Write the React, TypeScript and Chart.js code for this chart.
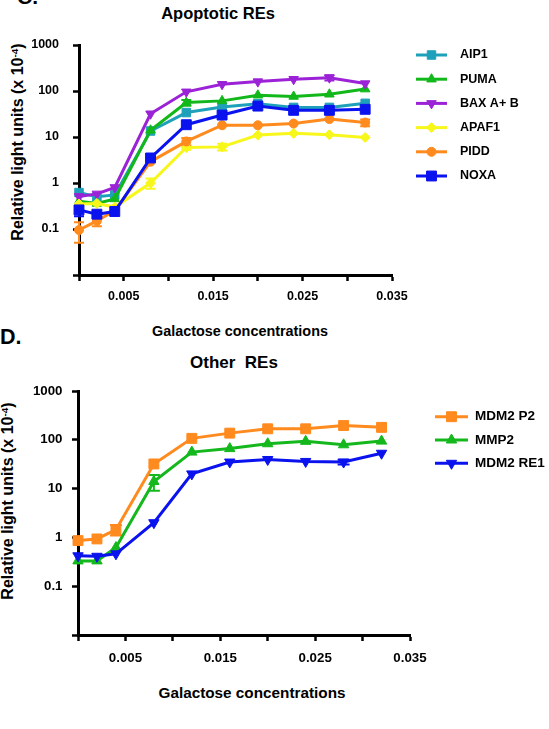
import React, { useEffect, useRef } from 'react';
import { Chart, registerables } from 'chart.js';
import { drawPoint } from 'chart.js/helpers';

Chart.register(...registerables);

const FONT = '"Liberation Sans", Arial, Helvetica, sans-serif';

// Galactose concentrations at which luciferase activity was measured
const galactose = [0, 0.002, 0.004, 0.008, 0.012, 0.016, 0.02, 0.024, 0.028, 0.032];

const xTickValues = [0, 0.005, 0.01, 0.015, 0.02, 0.025, 0.03, 0.035];
const xTickLabels = ['', '0.005', '', '0.015', '', '0.025', '', '0.035'];
const yTickValues = [0.01, 0.1, 1, 10, 100, 1000];
const yTickLabels = ['', '0.1', '1', '10', '100', '1000'];

// Apoptotic REs (relative light units x 10^-4)
const aip1 = [0.62, 0.5, 0.55, 13.5, 34, 45, 53, 44, 44, 54];
const puma = [0.4, 0.36, 0.45, 14, 56, 61, 81, 76, 85, 110];
const bax = [0.51, 0.58, 0.8, 32, 96, 140, 160, 180, 195, 145];
const apaf1 = [0.35, 0.36, 0.3, 1.0, 5.9, 6.1, 11, 12, 11.2, 9.8];
const pidd = [0.095, 0.15, 0.25, 2.9, 8, 18, 18, 19.6, 24.5, 20.6];
const noxa = [0.26, 0.21, 0.24, 3.5, 18.5, 30, 47, 38, 38, 40];

// error bar half-widths (0 = none drawn)
const aip1Err = [0, 0, 0, 0, 0, 0, 0, 0, 0, 0];
const pumaErr = [0, 0, 0, 0, 8, 0, 0, 0, 0, 0];
const baxErr = [0, 0, 0, 0, 0, 0, 0, 0, 25, 0];
const apaf1Err = [0, 0, 0, 0.25, 0.6, 1.0, 0, 0, 0, 0];
const piddErr = [0.045, 0.035, 0, 0, 1.5, 0, 0, 0, 0, 3.5];
const noxaErr = [0.07, 0, 0, 0, 0, 0, 0, 0, 0, 0];

// Other REs
const mdm2P2 = [0.86, 0.93, 1.44, 32, 107, 137, 168, 168, 196, 180];
const mmp2 = [0.33, 0.33, 0.62, 14, 56, 66, 83, 93, 79, 94];
const mdm2Re1 = [0.42, 0.41, 0.46, 2.0, 20, 35, 39.5, 36, 35, 53];

const mdm2P2Err = [0, 0, 0.35, 0, 0, 0, 0, 0, 0, 0];
const mmp2Err = [0, 0, 0, 5, 0, 0, 0, 0, 0, 0];
const mdm2Re1Err = [0, 0, 0, 0, 0, 0, 0, 0, 4, 0];

type SeriesDef = {
  label: string;
  values: number[];
  errors: number[];
  color: string;
  pointStyle: string;
  radius: number;
  rotation?: number;
};

const apoptoticSeries: SeriesDef[] = [
  { label: 'AIP1', values: aip1, errors: aip1Err, color: '#1fa0ba', pointStyle: 'rect', radius: 6 },
  { label: 'PUMA', values: puma, errors: pumaErr, color: '#12b81a', pointStyle: 'triangle', radius: 5.5 },
  { label: 'BAX A+ B', values: bax, errors: baxErr, color: '#9b22d6', pointStyle: 'triangle', radius: 5.5, rotation: 180 },
  { label: 'APAF1', values: apaf1, errors: apaf1Err, color: '#f7f71c', pointStyle: 'rectRot', radius: 5 },
  { label: 'PIDD', values: pidd, errors: piddErr, color: '#ff8a1e', pointStyle: 'circle', radius: 4.5 },
  { label: 'NOXA', values: noxa, errors: noxaErr, color: '#0a12ee', pointStyle: 'rect', radius: 7 },
];

const otherSeries: SeriesDef[] = [
  { label: 'MDM2 P2', values: mdm2P2, errors: mdm2P2Err, color: '#ff8a1e', pointStyle: 'rect', radius: 7 },
  { label: 'MMP2', values: mmp2, errors: mmp2Err, color: '#14b81c', pointStyle: 'triangle', radius: 6 },
  { label: 'MDM2 RE1', values: mdm2Re1, errors: mdm2Re1Err, color: '#0a12ee', pointStyle: 'triangle', radius: 6, rotation: 180 },
];

// Vertical error bars with caps, drawn underneath the lines and markers
const errorBarsPlugin = {
  id: 'errorBars',
  beforeDatasetsDraw(chart: any, _args: any, opts: any) {
    const ctx = chart.ctx;
    const yScale = chart.scales.y;
    const cap = opts.cap ?? 5;
    chart.data.datasets.forEach((ds: any, i: number) => {
      const errs: number[] | undefined = ds.errorBars;
      if (!errs) return;
      const meta = chart.getDatasetMeta(i);
      ctx.save();
      ctx.strokeStyle = ds.borderColor;
      ctx.lineWidth = 2;
      errs.forEach((e, j) => {
        if (!e) return;
        const v = ds.data[j].y;
        const pt = meta.data[j];
        const yHi = yScale.getPixelForValue(v + e);
        const yLo = yScale.getPixelForValue(Math.max(v - e, 0.001));
        ctx.beginPath();
        ctx.moveTo(pt.x, yHi);
        ctx.lineTo(pt.x, yLo);
        ctx.moveTo(pt.x - cap, yHi);
        ctx.lineTo(pt.x + cap, yHi);
        ctx.moveTo(pt.x - cap, yLo);
        ctx.lineTo(pt.x + cap, yLo);
        ctx.stroke();
      });
      ctx.restore();
    });
  },
};

// Legend with a line segment and marker for each series
const lineLegendPlugin = {
  id: 'lineLegend',
  afterDraw(chart: any, _args: any, opts: any) {
    const ctx = chart.ctx;
    ctx.save();
    chart.data.datasets.forEach((ds: any, i: number) => {
      const y = opts.top + i * opts.gap;
      ctx.strokeStyle = ds.borderColor;
      ctx.lineWidth = 3;
      ctx.beginPath();
      ctx.moveTo(opts.lineStart, y);
      ctx.lineTo(opts.lineEnd, y);
      ctx.stroke();
      ctx.fillStyle = ds.pointBackgroundColor;
      ctx.lineWidth = 1;
      drawPoint(
        ctx,
        { pointStyle: ds.pointStyle, rotation: ds.pointRotation || 0, radius: ds.pointRadius, borderWidth: 1 } as any,
        (opts.lineStart + opts.lineEnd) / 2,
        y
      );
      ctx.fillStyle = '#000';
      ctx.font = `bold ${opts.fontSize}px ${FONT}`;
      ctx.textAlign = 'left';
      ctx.textBaseline = 'middle';
      ctx.fillText(ds.label, opts.textX, y);
    });
    ctx.restore();
  },
};

type Geometry = {
  width: number;
  height: number;
  padTop: number;
  padRight: number;
  yAxisWidth: number;
  xAxisHeight: number;
  tickFont: number;
  yTickPad: number;
  xTickPad: number;
  legend: { top: number; gap: number; lineStart: number; lineEnd: number; textX: number; fontSize: number };
  cap: number;
};

function buildConfig(series: SeriesDef[], g: Geometry): any {
  const n = series.length;
  const datasets = series.map((s, i) => ({
    label: s.label,
    data: galactose.map((x, j) => ({ x, y: s.values[j] })),
    errorBars: s.errors,
    borderColor: s.color,
    backgroundColor: s.color,
    pointBackgroundColor: s.color,
    pointBorderColor: s.color,
    pointBorderWidth: 1,
    pointStyle: s.pointStyle,
    pointRotation: s.rotation ?? 0,
    pointRadius: s.radius,
    borderWidth: 3,
    tension: 0,
    clip: false,
    order: n - i,
  }));
  const tickFont = { family: FONT, size: g.tickFont, weight: 'bold' as const };
  return {
    type: 'line',
    data: { datasets },
    plugins: [errorBarsPlugin, lineLegendPlugin],
    options: {
      responsive: false,
      animation: false,
      devicePixelRatio: 1,
      layout: { padding: { top: g.padTop, right: g.padRight, left: 0, bottom: 0 } },
      plugins: {
        legend: { display: false },
        title: { display: false },
        tooltip: { enabled: false },
        errorBars: { cap: g.cap },
        lineLegend: g.legend,
      },
      scales: {
        x: {
          type: 'linear',
          min: 0,
          max: 0.035,
          afterBuildTicks: (s: any) => {
            s.ticks = xTickValues.map((v) => ({ value: v }));
          },
          afterFit: (s: any) => {
            s.height = g.xAxisHeight;
          },
          ticks: {
            autoSkip: false,
            maxRotation: 0,
            color: '#000',
            font: tickFont,
            padding: g.xTickPad,
            callback: (_v: any, i: number) => xTickLabels[i],
          },
          grid: { display: true, drawOnChartArea: false, drawTicks: true, tickLength: 6, tickWidth: 2.5, tickColor: '#000' },
          border: { display: true, color: '#000', width: 3 },
        },
        y: {
          type: 'logarithmic',
          min: 0.01,
          max: 1000,
          afterBuildTicks: (s: any) => {
            s.ticks = yTickValues.map((v) => ({ value: v }));
          },
          afterFit: (s: any) => {
            s.width = g.yAxisWidth;
          },
          ticks: {
            autoSkip: false,
            color: '#000',
            font: tickFont,
            padding: g.yTickPad,
            callback: (_v: any, i: number) => yTickLabels[i],
          },
          grid: { display: true, drawOnChartArea: false, drawTicks: true, tickLength: 6, tickWidth: 2.5, tickColor: '#000' },
          border: { display: true, color: '#000', width: 3 },
        },
      },
    },
  };
}

function Panel({ top, series, g }: { top: number; series: SeriesDef[]; g: Geometry }) {
  const ref = useRef<HTMLCanvasElement>(null);
  useEffect(() => {
    const chart = new Chart(ref.current as HTMLCanvasElement, buildConfig(series, g));
    return () => chart.destroy();
  }, []);
  return (
    <canvas
      ref={ref}
      width={g.width}
      height={g.height}
      style={{ position: 'absolute', left: 0, top, width: g.width, height: g.height, display: 'block' }}
    />
  );
}

// Text placed by its baseline; align center uses x as the centre
function Label({
  x,
  y,
  size,
  align = 'left',
  children,
}: {
  x: number;
  y: number;
  size: number;
  align?: 'left' | 'center';
  children: React.ReactNode;
}) {
  const top = y - 0.8465 * size;
  const style: React.CSSProperties = {
    position: 'absolute',
    top,
    fontFamily: FONT,
    fontWeight: 'bold',
    fontSize: size,
    lineHeight: `${size}px`,
    whiteSpace: 'pre',
    color: '#000',
  };
  if (align === 'center') {
    style.left = x - 300;
    style.width = 600;
    style.textAlign = 'center';
  } else {
    style.left = x;
  }
  return <div style={style}>{children}</div>;
}

function YTitle({ cx, cy, size }: { cx: number; cy: number; size: number }) {
  return (
    <div
      style={{
        position: 'absolute',
        left: cx - 150,
        top: cy - size / 2,
        width: 300,
        textAlign: 'center',
        fontFamily: FONT,
        fontWeight: 'bold',
        fontSize: size,
        lineHeight: `${size}px`,
        whiteSpace: 'pre',
        transform: 'rotate(-90deg)',
        color: '#000',
      }}
    >
      Relative light units (x 10<sup style={{ fontSize: '0.62em', lineHeight: 0, verticalAlign: '0.55em' }}>-4</sup>)
    </div>
  );
}

const topGeom: Geometry = {
  width: 549,
  height: 310,
  padTop: 45,
  padRight: 157,
  yAxisWidth: 79,
  xAxisHeight: 35,
  tickFont: 12.5,
  yTickPad: 14,
  xTickPad: 8.5,
  legend: { top: 55, gap: 24.2, lineStart: 416, lineEnd: 447, textX: 460, fontSize: 12.5 },
  cap: 5,
};

const bottomGeom: Geometry = {
  width: 549,
  height: 330,
  padTop: 51,
  padRight: 139,
  yAxisWidth: 78,
  xAxisHeight: 35,
  tickFont: 13.3,
  yTickPad: 9.5,
  xTickPad: 9,
  legend: { top: 76.7, gap: 23.3, lineStart: 435, lineEnd: 468, textX: 475, fontSize: 13.5 },
  cap: 6,
};

export default function App() {
  return (
    <div
      style={{
        position: 'absolute',
        left: 0,
        top: 0,
        width: 549,
        height: 729,
        overflow: 'hidden',
        background: '#fff',
      }}
    >
      <Label x={17} y={4} size={21}>C.</Label>
      <Label x={218} y={19} size={16.5} align="center">Apoptotic REs</Label>
      <YTitle cx={18} cy={142} size={16} />
      <Panel top={0} series={apoptoticSeries} g={topGeom} />
      <Label x={240} y={336} size={14.4} align="center">Galactose concentrations</Label>

      <Label x={0} y={345} size={21.5}>D.</Label>
      <Label x={234} y={368} size={17} align="center">{'Other  REs'}</Label>
      <YTitle cx={8} cy={501} size={16} />
      <Panel top={340} series={otherSeries} g={bottomGeom} />
      <Label x={252} y={698} size={15.3} align="center">Galactose concentrations</Label>
    </div>
  );
}
